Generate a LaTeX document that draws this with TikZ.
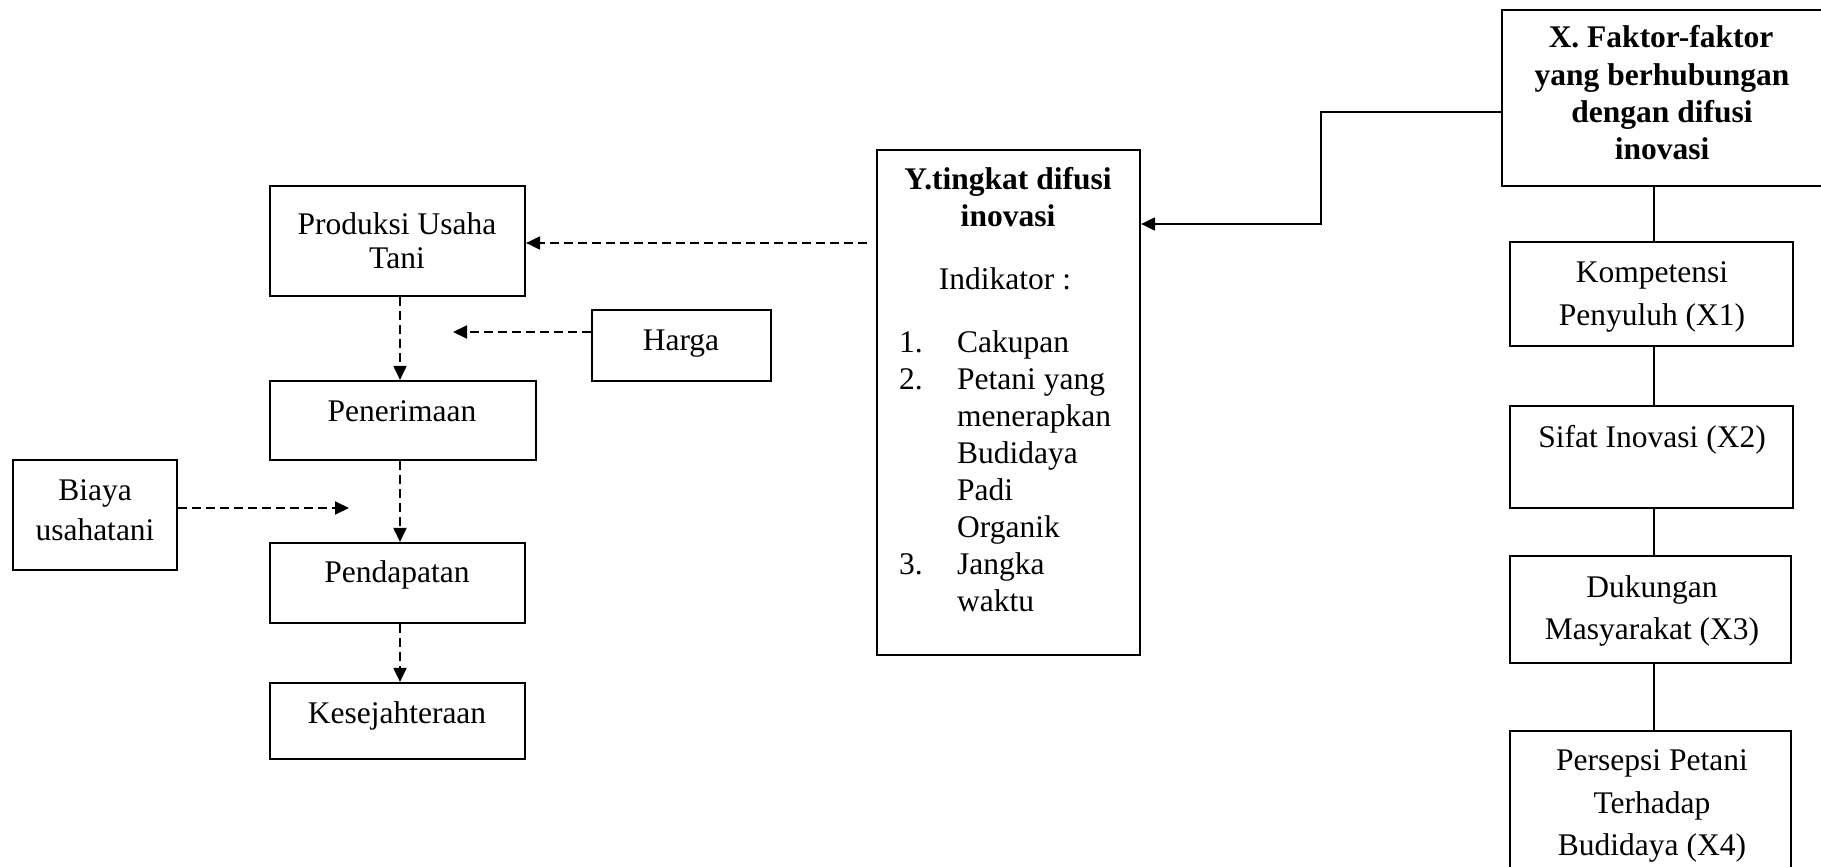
\documentclass[tikz,border=0pt]{standalone}
\usepackage{fontspec}
\setmainfont{Liberation Serif}
\usetikzlibrary{arrows.meta}
\begin{document}
\begin{tikzpicture}[x=1pt,y=-1pt,
  box/.style={draw,line width=2.2pt,inner sep=0pt},
  txt/.style={inner sep=0pt,anchor=base,font=\fontsize{31.5}{37}\selectfont},
  btxt/.style={inner sep=0pt,anchor=base,font=\fontsize{31.5}{37}\selectfont\bfseries},
  ltxt/.style={inner sep=0pt,anchor=base west,font=\fontsize{31.5}{37}\selectfont},
  dsh/.style={line width=2pt,dash pattern=on 9pt off 5pt,-{Triangle[length=14pt,width=13pt]}},
  sol/.style={line width=2pt},
  solarr/.style={line width=2pt,-{Triangle[length=14pt,width=13pt]}}]
\useasboundingbox (0,0) rectangle (1821,867);
\clip (0,0) rectangle (1821,867);

% left column boxes
\node[box,minimum width=255pt,minimum height=110pt] (prod) at (397.5,241) {};
\node[box,minimum width=179pt,minimum height=71pt] (harga) at (681.5,345.5) {};
\node[box,minimum width=266pt,minimum height=79pt] (pener) at (403,420.5) {};
\node[box,minimum width=164pt,minimum height=110pt] (biaya) at (95,515) {};
\node[box,minimum width=255pt,minimum height=80pt] (pend) at (397.5,583) {};
\node[box,minimum width=255pt,minimum height=76pt] (kes) at (397.5,721) {};

\node[txt] (prodt1) at (397,234) {Produksi Usaha};
\node[txt] (prodt2) at (397,268) {Tani};
\node[txt] (hargat) at (681,350) {Harga};
\node[txt] (penert) at (402,421) {Penerimaan};
\node[txt] (biayat1) at (95,500) {Biaya};
\node[txt] (biayat2) at (95,540) {usahatani};
\node[txt] (pendt) at (397,582) {Pendapatan};
\node[txt] (kest) at (397,723) {Kesejahteraan};

% Y box
\node[box,minimum width=263pt,minimum height=505pt] (Y) at (1008.5,402.5) {};
\node[btxt] (yt1) at (1008,189) {Y.tingkat difusi};
\node[btxt] (yt2) at (1008,226) {inovasi};
\node[txt] (yt3) at (1005,289) {Indikator :};
\node[ltxt] (n1) at (899,352) {1.};
\node[ltxt] (l1) at (957,352) {Cakupan};
\node[ltxt] (n2) at (899,389) {2.};
\node[ltxt] (l2) at (957,389) {Petani yang};
\node[ltxt] (l3) at (957,426) {menerapkan};
\node[ltxt] (l4) at (957,463) {Budidaya};
\node[ltxt] (l5) at (957,500) {Padi};
\node[ltxt] (l6) at (957,537) {Organik};
\node[ltxt] (n3) at (899,574) {3.};
\node[ltxt] (l7) at (957,574) {Jangka};
\node[ltxt] (l8) at (957,611) {waktu};

% X box and right column
\node[box,minimum width=358pt,minimum height=176pt] (X) at (1681,98) {};
\node[btxt] (xt1) at (1661,48) {X. Faktor-faktor};
\node[btxt] (xt2) at (1662,85) {yang berhubungan};
\node[btxt] (xt3) at (1662,122) {dengan difusi};
\node[btxt] (xt4) at (1662,159) {inovasi};

\node[box,minimum width=283pt,minimum height=104pt] (komp) at (1651.5,294) {};
\node[txt] (kompt1) at (1652,282) {Kompetensi};
\node[txt] (kompt2) at (1652,325) {Penyuluh (X1)};
\node[box,minimum width=283pt,minimum height=102pt] (sifat) at (1651.5,457) {};
\node[txt] (sifatt) at (1652,447) {Sifat Inovasi (X2)};
\node[box,minimum width=281pt,minimum height=107pt] (duk) at (1650.5,609.5) {};
\node[txt] (dukt1) at (1652,597) {Dukungan};
\node[txt] (dukt2) at (1652,639) {Masyarakat (X3)};
\node[box,minimum width=281pt,minimum height=189pt] (pers) at (1650.5,825.5) {};
\node[txt] (perst1) at (1652,770) {Persepsi Petani};
\node[txt] (perst2) at (1652,813) {Terhadap};
\node[txt] (perst3) at (1652,855) {Budidaya (X4)};

% connectors
\coordinate (cx) at (400,0);
\draw[dsh] (prod.south -| cx) -- (pener.north -| cx);
\draw[dsh] (pener.south -| cx) -- (pend.north -| cx);
\draw[dsh] (pend.south -| cx) -- (kes.north -| cx);

\coordinate (hend) at (453,332);
\draw[dsh] (hend -| harga.west) -- (hend);
\coordinate (bend) at (349,508);
\draw[dsh] (bend -| biaya.east) -- (bend);
\coordinate (ystart) at (867,243);
\draw[dsh] (ystart) -- (ystart -| prod.east);

\coordinate (xy1) at (1321,112);
\coordinate (xy2) at (1321,224);
\draw[solarr] (xy1 -| X.west) -- (xy1) -- (xy2) -- (xy2 -| Y.east);

\coordinate (rx) at (1654,0);
\draw[sol] (X.south -| rx) -- (komp.north -| rx);
\draw[sol] (komp.south -| rx) -- (sifat.north -| rx);
\draw[sol] (sifat.south -| rx) -- (duk.north -| rx);
\draw[sol] (duk.south -| rx) -- (pers.north -| rx);
\end{tikzpicture}
\end{document}
